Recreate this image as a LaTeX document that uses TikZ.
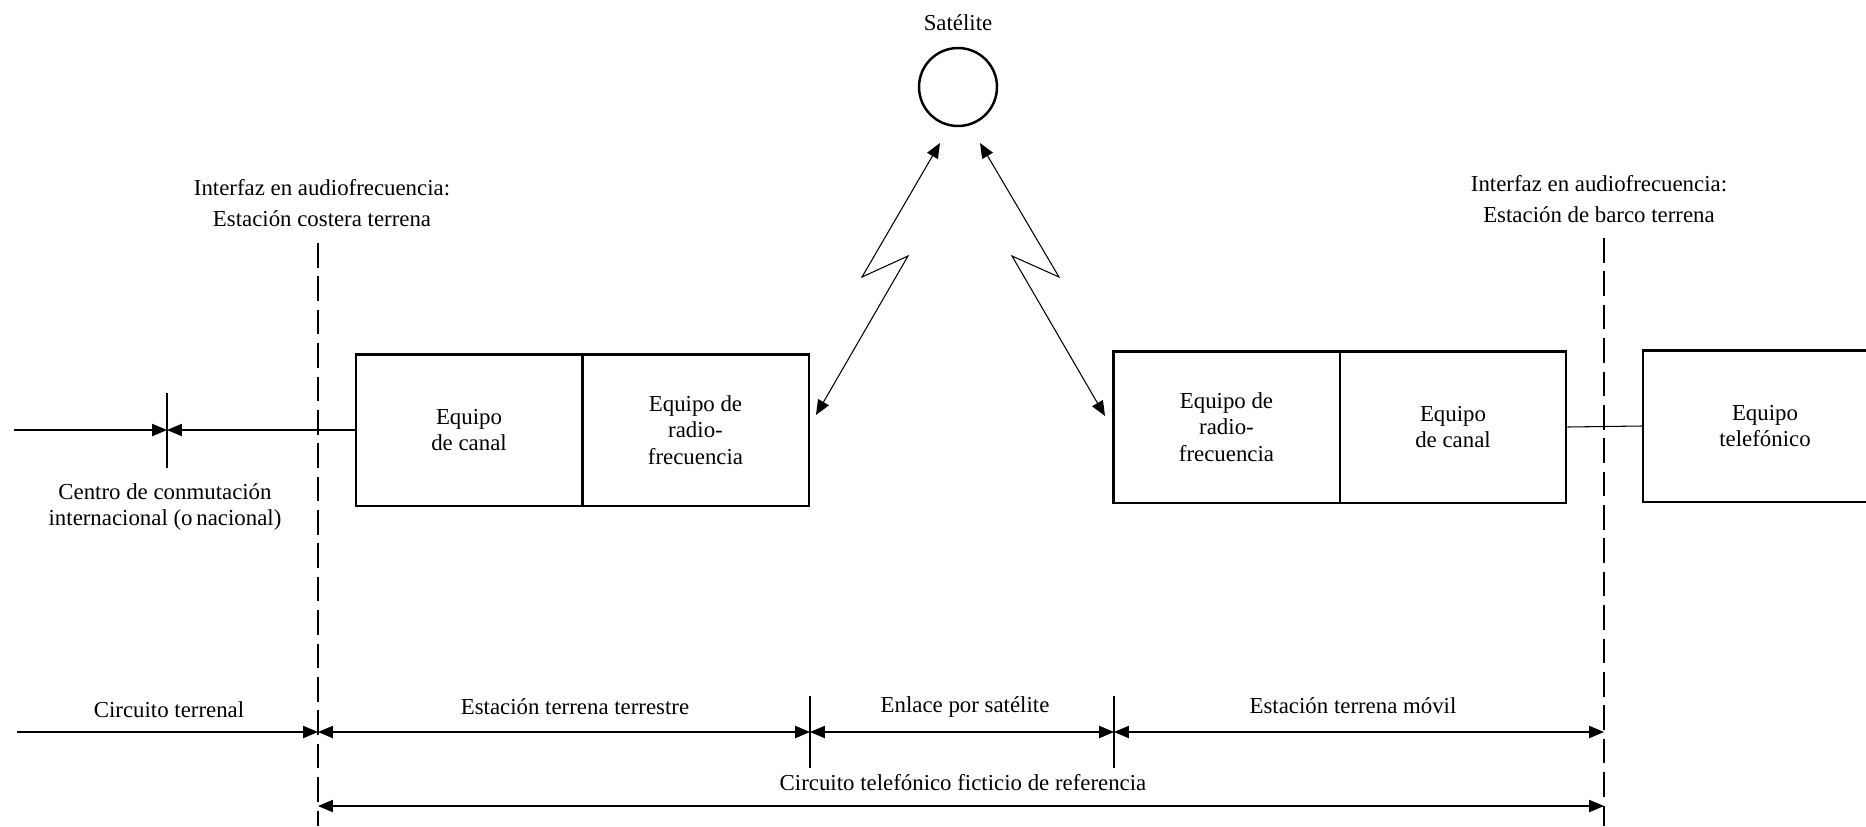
\documentclass[tikz,border=0pt]{standalone}
\usepackage{fontspec}
\setmainfont{Liberation Serif}
\usetikzlibrary{arrows.meta}

\begin{document}
\begin{tikzpicture}[x=0.02cm,y=-0.02cm,
    font=\fontsize{13}{15}\selectfont,
    equip/.style={draw,line width=1.4pt,minimum width=4.53cm,minimum height=3.03cm,align=center,inner sep=0pt},
    thin/.style={line width=0.6pt},
    tip/.style={thin,-{Triangle[length=8.5pt,width=7pt]}},
    both/.style={thin,{Triangle[length=8.5pt,width=7pt]}-{Triangle[length=8.5pt,width=7pt]}},
    border/.style={line width=0.6pt,dash pattern=on 14pt off 5pt}]
    \useasboundingbox (0,0) rectangle (1866,826);
    \clip (0,0) rectangle (1866,826);

    % satellite
    \node[draw,circle,line width=1.4pt,minimum size=1.56cm] (sat) at (958,87) {};
    \node (satlabel) at (958,23) {Satélite};

    % boxes
    \node[equip] (chanL) at (469,430) {Equipo\\de canal};
    \node[equip] (rfL) at (695.5,430) {Equipo de\\radio-\\frecuencia};
    \node[equip] (rfR) at (1226.5,427) {Equipo de\\radio-\\frecuencia};
    \node[equip] (chanR) at (1453,427) {Equipo\\de canal};
    \node[equip,minimum width=4.88cm] (phone) at (1765,426) {Equipo\\telefónico};

    % radio links
    \coordinate (lkL1) at (940,143);
    \coordinate (lkL2) at (862,277);
    \coordinate (lkL3) at (908,256);
    \coordinate (lkL4) at (816,415);
    \coordinate (lkR1) at (980,143);
    \coordinate (lkR2) at (1059,277);
    \coordinate (lkR3) at (1012,256);
    \coordinate (lkR4) at (1105,416);
    \draw[both] (lkL1) -- (lkL2) -- (lkL3) -- (lkL4);
    \draw[both] (lkR1) -- (lkR2) -- (lkR3) -- (lkR4);

    % switching centre
    \coordinate (in) at (14,430);
    \coordinate (cx) at (167,430);
    \coordinate (cxtop) at (167,393);
    \coordinate (cxbot) at (167,468);
    \draw[tip] (in) -- (cx);
    \draw[tip] (chanL.west) -- (cx);
    \draw[thin] (cxtop) -- (cxbot);
    \node[align=center] (centro) at (165,507) {Centro de conmutación\\internacional (o\,nacional)};
    \draw[thin] (chanR.east) -- (phone.west);

    % interfaces
    \coordinate (ifL-top) at (318,243);
    \coordinate (ifL-bot) at (318,826);
    \coordinate (ifR-top) at (1604,238);
    \coordinate (ifR-bot) at (1604,826);
    \draw[border] (ifL-top) -- (ifL-bot);
    \draw[border] (ifR-top) -- (ifR-bot);
    \node[align=center] (ifL) at (322,203) {Interfaz en audiofrecuencia:\\[2.5pt]Estación costera terrena};
    \node[align=center] (ifR) at (1599,199) {Interfaz en audiofrecuencia:\\[2.5pt]Estación de barco terrena};

    % sections
    \coordinate (r1a) at (17,732);
    \coordinate (r1b) at (318,732);
    \coordinate (r1c) at (810,732);
    \coordinate (r1d) at (1114,732);
    \coordinate (r1e) at (1604,732);
    \coordinate (r2a) at (318,806);
    \coordinate (r2b) at (1604,806);
    \coordinate (t1top) at (810,696);
    \coordinate (t1bot) at (810,768);
    \coordinate (t2top) at (1114,696);
    \coordinate (t2bot) at (1114,768);
    \draw[thin] (t1top) -- (t1bot);
    \draw[thin] (t2top) -- (t2bot);
    \draw[tip] (r1a) -- (r1b);
    \draw[both] (r1b) -- (r1c);
    \draw[both] (r1c) -- (r1d);
    \draw[both] (r1d) -- (r1e);
    \draw[both] (r2a) -- (r2b);
    \node (terrenal) at (169,710) {Circuito terrenal};
    \node (terrestre) at (575,707) {Estación terrena terrestre};
    \node (enlace) at (965,707) {Enlace por satélite};
    \node (movil) at (1353,706) {Estación terrena móvil};
    \node (ficticio) at (963,783) {Circuito telefónico ficticio de referencia};
\end{tikzpicture}
\end{document}
